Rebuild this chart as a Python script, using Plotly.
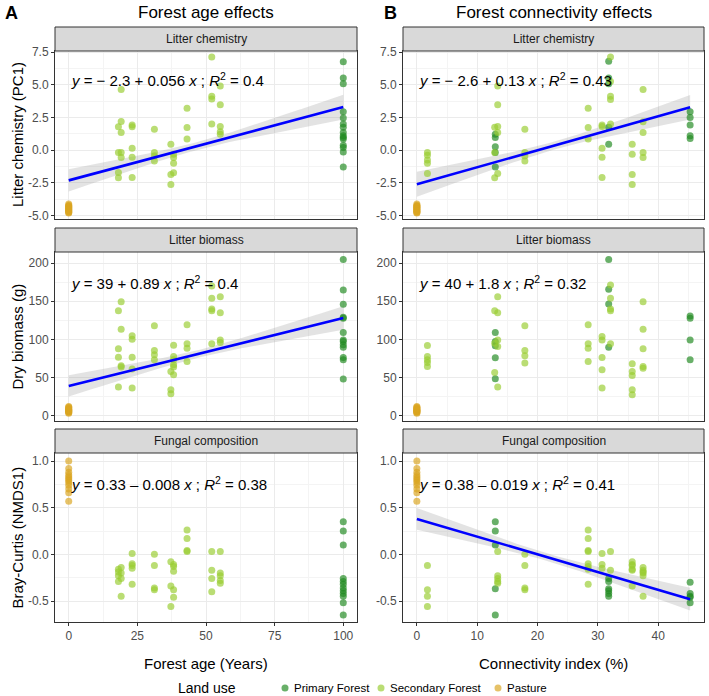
import numpy as np
import plotly.graph_objects as go

# ---------------- DATA ----------------
land_uses = ["Primary Forest", "Secondary Forest", "Pasture"]
colors = {"Primary Forest": "#228B22", "Secondary Forest": "#9ACD32", "Pasture": "#DAA520"}

facets = ["Litter chemistry", "Litter biomass", "Fungal composition"]
y_titles = ["Litter chemistry (PC1)", "Dry biomass (g)", "Bray-Curtis (NMDS1)"]
x_titles = ["Forest age (Years)", "Connectivity index (%)"]
col_titles = ["Forest age effects", "Forest connectivity effects"]
col_letters = ["A", "B"]
legend_title = "Land use"

# pasture (x = 0 in both columns)
pasture_chem = [-4.1, -4.2, -4.25, -4.3, -4.35, -4.4, -4.45, -4.5, -4.55, -4.6, -4.65, -4.7, -4.75, -4.8]
pasture_bio = [3, 4, 5, 5.5, 6, 7, 7.5, 8, 9, 10, 11, 12]
pasture_fun = [1.0, 0.92, 0.88, 0.85, 0.83, 0.81, 0.79, 0.77, 0.74, 0.70, 0.66, 0.57]

# forest age column: (x, [y values])
age_chem_sec = [(19.1, [4.64, 2.2, 1.36, -0.18, -0.56]), (18.1, [1.8, -0.18, -1.7, -2.1]),
                (23.1, [1.92, 1.8, 0.15, -0.54, -2.08]), (31.2, [1.6, -0.18, -0.43, -0.82]),
                (37.2, [0.46, -1.85, -2.62]), (38.2, [-0.31, -0.56, -1.0, -1.71]),
                (43.1, [3.2, 1.74, 0.85]), (52.1, [7.13, 4.13, 3.92, 2.0]),
                (55.2, [4.9, 3.48, 1.82, 1.41, 1.23])]
age_chem_pri = [(100, [6.75, 5.52, 5.08, 2.95, 2.46, 2.0, 1.75, 1.36, 1.1, 0.98, 0.85, 0.38, 0.21, -0.13, -1.28])]

age_bio_sec = [(19.1, [149.4, 113.3, 65.4, 63.7]), (18.1, [137.6, 87.6, 76.7, 37.5]),
               (23.1, [104.6, 100.2, 76.7, 61, 36.2]), (31.2, [118, 85.4, 79.7, 73.2]),
               (37.2, [57.9, 34, 28.8]), (38.2, [92.4, 77.5, 73.2, 66.7, 63.7, 53.6]),
               (43.1, [119.3, 94.1, 88.5, 71]), (52.1, [170, 153.9, 139.9, 137.6, 94.1]),
               (55.2, [156, 135, 99.3, 95.8])]
age_bio_pri = [(100, [204.8, 164.7, 146, 129, 127.7, 108.9, 99.3, 97.1, 92.8, 89.8, 76.2, 73.2, 48])]

age_fun_sec = [(19.1, [-0.14, -0.2, -0.26, -0.45]), (18.1, [-0.16, -0.23, -0.29, -0.19]),
               (23.1, [0.01, -0.1, -0.12, -0.15, -0.32]), (31.2, [0.0, -0.12, -0.36, -0.38]),
               (37.2, [-0.08, -0.34, -0.56]), (38.2, [-0.11, -0.13, -0.18, -0.38, -0.46]),
               (43.1, [0.26, 0.17, 0.04, 0.03]), (52.1, [0.03, -0.17, -0.26, -0.4]),
               (55.2, [0.03, -0.2, -0.23, -0.28, -0.31])]
age_fun_pri = [(100, [0.35, 0.25, 0.10, -0.26, -0.29, -0.32, -0.36, -0.39, -0.42, -0.45, -0.52, -0.65])]

# connectivity column: (x, [y values])
con_chem_sec = [(1.75, [-0.18, -0.38, -0.75, -1.0, -1.77]), (13.4, [4.9, 3.48, 1.82, 1.36, -1.77]),
                (12.9, [1.75, -0.18, -2.1]), (17.9, [1.6, -0.18, -0.43, -0.82]),
                (28.4, [3.2, 1.74, 0.85]), (30.7, [1.92, 1.82, 0.15, -0.54, -2.08]),
                (32.1, [7.13, 5.26, 4.13, 3.87, 2.0]), (35.7, [0.46, -0.31, -1.85, -2.62]),
                (37.5, [4.64, 2.18, 1.36, -0.18, -0.56])]
con_chem_pri = [(13.0, [1.23, 0.98, 0.26, -0.18, -1.28]), (31.8, [6.8, 5.52, 5.08, 1.75, 0.46]),
                (45.3, [2.95, 2.51, 1.92, 1.1, 0.9])]

con_bio_sec = [(1.75, [91.9, 77.5, 73.2, 69.7, 64.4]), (13.4, [156, 135, 99.3, 90.6, 37.5]),
               (12.9, [137.6, 95, 56.6]), (17.9, [118, 85.4, 78.4, 68.9]),
               (28.4, [119.3, 94.1, 88.5, 71]), (30.7, [103.7, 99.3, 76.2, 60.1, 36.2]),
               (32.1, [171.2, 153.9, 139.9, 137.6, 94.1]), (35.7, [68, 57.9, 52.7, 34, 27.5]),
               (37.5, [149.4, 113.3, 87.6, 64.4, 62.3])]
con_bio_pri = [(13.0, [108.9, 97.1, 91.5, 75.8, 48.4]), (31.8, [204.8, 165.6, 146.4, 89.8]),
               (45.3, [130.7, 127.7, 99.3, 73.2])]

con_fun_sec = [(1.75, [-0.12, -0.38, -0.45, -0.56]), (13.4, [0.03, -0.23, -0.26, -0.29, -0.31]),
               (17.9, [0.0, -0.12, -0.36, -0.38]), (28.4, [0.26, 0.17, 0.04, 0.03, -0.1, -0.13, -0.16, -0.32]),
               (30.7, [0.01, -0.11, -0.15]), (32.1, [0.03, -0.17]),
               (35.7, [-0.08, -0.11, -0.12, -0.16, -0.17, -0.34]),
               (37.5, [-0.14, -0.17, -0.19, -0.2, -0.23, -0.45])]
con_fun_pri = [(13.0, [0.35, 0.25, 0.10, -0.37, -0.65]), (31.8, [-0.26, -0.29, -0.37, -0.39, -0.42, -0.45]),
               (45.3, [-0.3, -0.42, -0.45, -0.46, -0.52])]

# fitted lines: (intercept, slope, x_end, band min half-width, band centre x, band growth)
fits = {
    (0, 0): (-2.3, 0.056, 100, 0.3, 47, 0.0169),
    (0, 1): (-2.6, 0.13, 45.3, 0.3, 23, 0.0396),
    (1, 0): (39, 0.89, 100, 5.0, 47, 0.278),
    (2, 1): (0.38, -0.019, 45.3, 0.04, 22, 0.00496),
}

equations = {
    (0, 0): "<i>y</i> = − 2.3 + 0.056 <i>x</i> ; <i>R</i><sup>2</sup> = 0.4",
    (0, 1): "<i>y</i> = − 2.6 + 0.13 <i>x</i> ; <i>R</i><sup>2</sup> = 0.43",
    (1, 0): "<i>y</i> = 39 + 0.89 <i>x</i> ; <i>R</i><sup>2</sup> = 0.4",
    (1, 1): "<i>y</i> = 40 + 1.8 <i>x</i> ; <i>R</i><sup>2</sup> = 0.32",
    (2, 0): "<i>y</i> = 0.33 – 0.008 <i>x</i> ; <i>R</i><sup>2</sup> = 0.38",
    (2, 1): "<i>y</i> = 0.38 – 0.019 <i>x</i> ; <i>R</i><sup>2</sup> = 0.41",
}
eq_y = [5.4, 174, 0.76]

# ticks
x_ticks = [[0, 25, 50, 75, 100], [0, 10, 20, 30, 40]]
x_minor = [12.5, 5]
x_ranges = [[-5, 105], [-2.3, 47.6]]
y_ticks = [[-5.0, -2.5, 0.0, 2.5, 5.0, 7.5], [0, 50, 100, 150, 200], [-0.5, 0.0, 0.5, 1.0]]
y_ticktext = [["-5.0", "-2.5", "0.0", "2.5", "5.0", "7.5"], ["0", "50", "100", "150", "200"],
              ["-0.5", "0.0", "0.5", "1.0"]]
y_minor = [1.25, 25, 0.25]
y_ranges = [[-5.25, 7.58], [-7, 214.5], [-0.725, 1.086]]

# ---------------- LAYOUT GEOMETRY ----------------
W, H = 709, 696
col_px = [(55, 357), (403, 704)]
row_px = [(51, 219), (252, 421), (453, 622)]      # plot area top/bottom (px)
strip_px = [(27, 51), (228, 252), (429, 453)]
legend_y = 688
legend_title_x = 176
legend_dot_x = [285, 381, 498]


def fx(px):
    return px / W


def fy(py):
    return 1 - py / H


def expand(groups):
    xs, ys = [], []
    for x, vals in groups:
        xs += [x] * len(vals)
        ys += vals
    return xs, ys


data = {
    (0, 0): {"Primary Forest": expand(age_chem_pri), "Secondary Forest": expand(age_chem_sec),
             "Pasture": ([0] * len(pasture_chem), pasture_chem)},
    (1, 0): {"Primary Forest": expand(age_bio_pri), "Secondary Forest": expand(age_bio_sec),
             "Pasture": ([0] * len(pasture_bio), pasture_bio)},
    (2, 0): {"Primary Forest": expand(age_fun_pri), "Secondary Forest": expand(age_fun_sec),
             "Pasture": ([0] * len(pasture_fun), pasture_fun)},
    (0, 1): {"Primary Forest": expand(con_chem_pri), "Secondary Forest": expand(con_chem_sec),
             "Pasture": ([0] * len(pasture_chem), pasture_chem)},
    (1, 1): {"Primary Forest": expand(con_bio_pri), "Secondary Forest": expand(con_bio_sec),
             "Pasture": ([0] * len(pasture_bio), pasture_bio)},
    (2, 1): {"Primary Forest": expand(con_fun_pri), "Secondary Forest": expand(con_fun_sec),
             "Pasture": ([0] * len(pasture_fun), pasture_fun)},
}

FONT = "Liberation Sans, Arial, Helvetica, sans-serif"
OPACITY = 0.68
fig = go.Figure()
layout = {}
shapes = []
annotations = []

idx = 0
for r in range(3):
    for c in range(2):
        idx += 1
        xa = "x" if idx == 1 else f"x{idx}"
        ya = "y" if idx == 1 else f"y{idx}"
        xkey = "xaxis" if idx == 1 else f"xaxis{idx}"
        ykey = "yaxis" if idx == 1 else f"yaxis{idx}"
        bottom = r == 2
        layout[xkey] = dict(
            domain=[fx(col_px[c][0]), fx(col_px[c][1])], anchor=ya, range=x_ranges[c],
            automargin=False,
            tickvals=x_ticks[c], ticktext=[str(v) for v in x_ticks[c]], showticklabels=bottom,
            ticks="outside" if bottom else "", ticklen=3, tickcolor="#333333",
            tickfont=dict(size=12, color="#4D4D4D", family=FONT),
            showgrid=True, gridcolor="#EBEBEB", gridwidth=1,
            minor=dict(dtick=x_minor[c], tick0=0, showgrid=True, gridcolor="#F4F4F4", gridwidth=0.6),
            showline=True, mirror=True, linecolor="#333333", linewidth=1, zeroline=False)
        layout[ykey] = dict(
            domain=[fy(row_px[r][1]), fy(row_px[r][0])], anchor=xa, range=y_ranges[r],
            automargin=False,
            tickvals=y_ticks[r], ticktext=y_ticktext[r],
            ticks="outside", ticklen=3, tickcolor="#333333",
            tickfont=dict(size=12, color="#4D4D4D", family=FONT),
            showgrid=True, gridcolor="#EBEBEB", gridwidth=1,
            minor=dict(dtick=y_minor[r], tick0=0, showgrid=True, gridcolor="#F4F4F4", gridwidth=0.6),
            showline=True, mirror=True, linecolor="#333333", linewidth=1, zeroline=False)

        # fitted confidence band
        if (r, c) in fits:
            b0, b1, xe, a, xb, g = fits[(r, c)]
            xx = np.linspace(0, xe, 80)
            yy = b0 + b1 * xx
            hw = np.sqrt(a ** 2 + (g * (xx - xb)) ** 2)
            fig.add_trace(go.Scatter(x=np.concatenate([xx, xx[::-1]]),
                                     y=np.concatenate([yy + hw, (yy - hw)[::-1]]),
                                     fill="toself", fillcolor="rgba(153,153,153,0.28)",
                                     line=dict(width=0), mode="lines", hoverinfo="skip",
                                     showlegend=False, xaxis=xa, yaxis=ya))

        for lu in land_uses:
            xs, ys = data[(r, c)][lu]
            fig.add_trace(go.Scatter(x=xs, y=ys, mode="markers", name=lu, showlegend=False,
                                     marker=dict(size=7, color=colors[lu], opacity=OPACITY,
                                                 line=dict(width=0)),
                                     xaxis=xa, yaxis=ya))

        if (r, c) in fits:
            b0, b1, xe, a, xb, g = fits[(r, c)]
            xx = np.array([0, xe])
            fig.add_trace(go.Scatter(x=xx, y=b0 + b1 * xx, mode="lines",
                                     line=dict(color="#0000FF", width=2.6), hoverinfo="skip",
                                     showlegend=False, xaxis=xa, yaxis=ya))

        # strip
        shapes.append(dict(type="rect", xref="paper", yref="paper",
                           x0=fx(col_px[c][0]), x1=fx(col_px[c][1]),
                           y0=fy(strip_px[r][1]), y1=fy(strip_px[r][0]),
                           fillcolor="#D9D9D9", line=dict(color="#333333", width=1), layer="above"))
        annotations.append(dict(text=facets[r], xref="paper", yref="paper",
                                x=fx((col_px[c][0] + col_px[c][1]) / 2),
                                y=fy((strip_px[r][0] + strip_px[r][1]) / 2),
                                showarrow=False, xanchor="center", yanchor="middle",
                                font=dict(size=12, color="#1A1A1A", family=FONT)))
        # equation
        annotations.append(dict(text=equations[(r, c)], xref=xa, yref=ya, x=0, y=eq_y[r],
                                showarrow=False, xanchor="left", yanchor="middle",
                                font=dict(size=15, color="black", family=FONT)))

# column titles, letters, x titles
for c in range(2):
    annotations.append(dict(text=col_titles[c], xref="paper", yref="paper",
                            x=fx((col_px[c][0] + col_px[c][1]) / 2), y=fy(13),
                            showarrow=False, xanchor="center", yanchor="middle",
                            font=dict(size=17, color="black", family=FONT)))
    annotations.append(dict(text=f"<b>{col_letters[c]}</b>", xref="paper", yref="paper",
                            x=fx([3, 382][c]), y=fy(13), showarrow=False,
                            xanchor="left", yanchor="middle",
                            font=dict(size=18, color="black", family=FONT)))
    annotations.append(dict(text=x_titles[c], xref="paper", yref="paper",
                            x=fx((col_px[c][0] + col_px[c][1]) / 2), y=fy(663),
                            showarrow=False, xanchor="center", yanchor="middle",
                            font=dict(size=15, color="black", family=FONT)))
for r in range(3):
    annotations.append(dict(text=y_titles[r], xref="paper", yref="paper", textangle=-90,
                            x=fx(17), y=fy((row_px[r][0] + row_px[r][1]) / 2),
                            showarrow=False, xanchor="center", yanchor="middle",
                            font=dict(size=15, color="black", family=FONT)))

# manual legend (keys drawn as circles, labels as text)
annotations.append(dict(text=legend_title, xref="paper", yref="paper", x=fx(legend_title_x),
                        y=fy(legend_y), showarrow=False, xanchor="left", yanchor="middle",
                        font=dict(size=14, color="black", family=FONT)))
for lu, dx in zip(land_uses, legend_dot_x):
    shapes.append(dict(type="circle", xref="paper", yref="paper",
                       x0=fx(dx - 3.5), x1=fx(dx + 3.5), y0=fy(legend_y + 3.5), y1=fy(legend_y - 3.5),
                       fillcolor=colors[lu], opacity=OPACITY, line=dict(width=0)))
    annotations.append(dict(text=lu, xref="paper", yref="paper", x=fx(dx + 7), y=fy(legend_y),
                            showarrow=False, xanchor="left", yanchor="middle",
                            font=dict(size=11.5, color="black", family=FONT)))

fig.update_layout(
    width=W, height=H, margin=dict(l=0, r=0, t=0, b=0, autoexpand=False),
    paper_bgcolor="white", plot_bgcolor="white",
    font=dict(family=FONT), showlegend=False,
    shapes=shapes, annotations=annotations,
    **layout)

fig.write_html("out.html")
